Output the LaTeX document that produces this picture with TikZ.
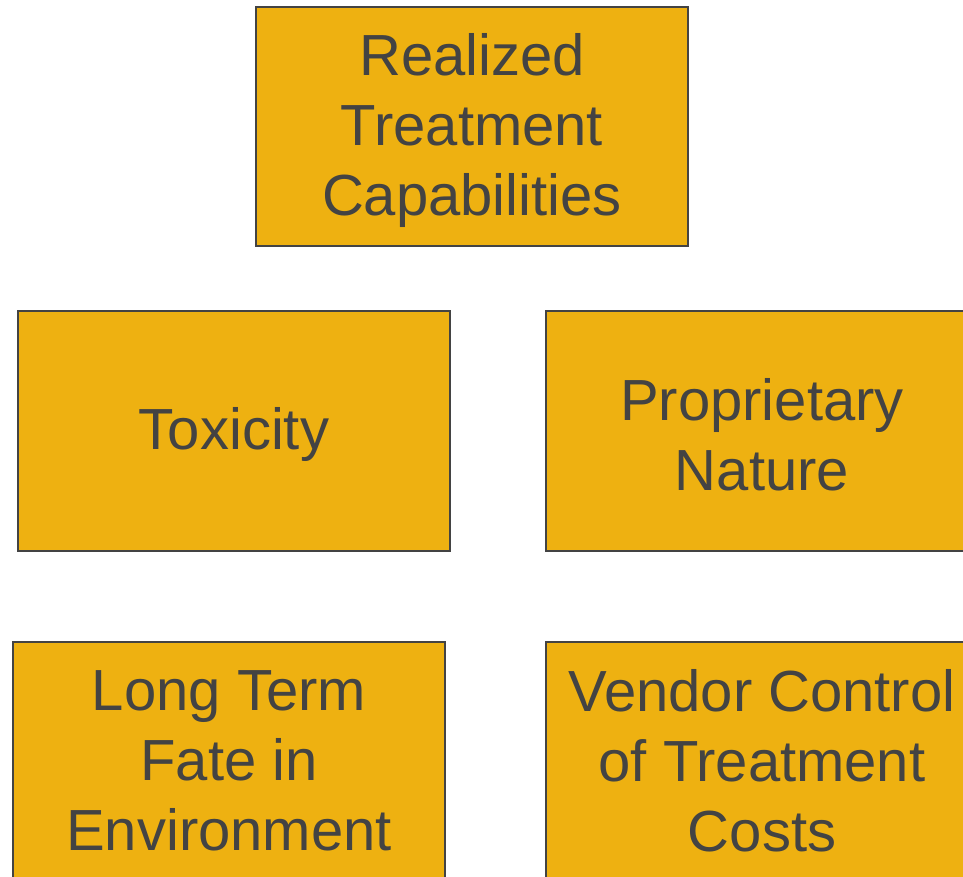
\documentclass[tikz,border=0pt]{standalone}
\usepackage{fontspec}
\setmainfont{Liberation Sans}
\definecolor{boxfill}{HTML}{EEB111}
\definecolor{boxline}{HTML}{434343}

\begin{document}
\begin{tikzpicture}[x=1pt,y=-1pt,
  factor/.style={draw=boxline, line width=2pt, fill=boxfill,
    minimum width=432pt, minimum height=240pt, inner sep=0pt},
  factortext/.style={text=boxline, align=center, inner sep=0pt,
    yshift=-4pt, font=\fontsize{58}{70}\selectfont}]
\useasboundingbox (0,0) rectangle (963,877);
\clip (0,0) rectangle (963,877);
\node [factor, minimum height=239pt, label={[factortext]center:{Realized\\Treatment\\Capabilities}}] (realized) at (472,126.5) {};
\node [factor, label={[factortext]center:{Toxicity}}] (toxicity) at (234,431) {};
\node [factor, label={[factortext]center:{Proprietary\\Nature}}] (proprietary) at (762,431) {};
% bottom row runs off the page
\node [factor, label={[factortext, yshift=5pt]center:{Long Term\\Fate in\\Environment}}] (fate) at (229,762) {};
\node [factor, label={[factortext, yshift=5pt]center:{Vendor Control\\of Treatment\\Costs}}] (vendor) at (762,762) {};
\end{tikzpicture}
\end{document}
